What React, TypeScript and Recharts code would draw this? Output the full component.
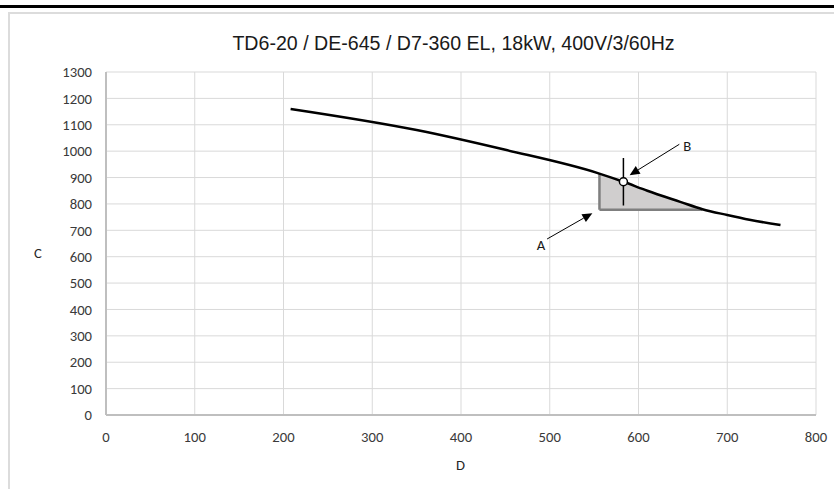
import React from "react";
import {
  ComposedChart,
  Line,
  Area,
  XAxis,
  YAxis,
  CartesianGrid,
  ReferenceLine,
  ReferenceDot,
} from "recharts";

// curve
const curveD = [208, 350, 450, 555, 583, 610, 647, 672, 700, 725, 760];
const curveC = [1160, 1080, 1005, 916, 884, 850, 808, 780, 758, 740, 720];

// shaded working range (A)
const shadeD = [556, 583, 610, 647, 672];
const shadeC = [915, 884, 850, 808, 780];
const shadeBase = 778;

// duty point (B) with its spread
const pointB = { d: 583, c: 884 };
const pointSpread = 90;

// callout arrows and their letters
const arrowA = { label: "A", text: [490, 644], from: [497, 667], to: [548, 765] };
const arrowB = { label: "B", text: [655, 1019], from: [646, 1026], to: [590, 909] };

const xTicks = [0, 100, 200, 300, 400, 500, 600, 700, 800];
const yTicks = [0, 100, 200, 300, 400, 500, 600, 700, 800, 900, 1000, 1100, 1200, 1300];

const TITLE = "TD6-20 / DE-645 / D7-360 EL, 18kW, 400V/3/60Hz";
const Y_LABEL = "C";
const X_LABEL = "D";

const curveData = curveD.map((d, i) => ({ d, c: curveC[i] }));
const shadeData = shadeD.map((d, i) => ({ d, s: shadeC[i] }));

const FONT = "Carlito, Calibri, Lato, sans-serif";
const tickFont = { fontFamily: FONT, fontSize: 14.67, fill: "#3a3a3a" };

const ArrowShape = (props: any) => {
  const { x1, y1, x2, y2 } = props;
  const dx = x2 - x1;
  const dy = y2 - y1;
  const len = Math.sqrt(dx * dx + dy * dy) || 1;
  const ux = dx / len;
  const uy = dy / len;
  const head = 10;
  const half = 4.5;
  const bx = x2 - ux * head;
  const by = y2 - uy * head;
  const pts = `${x2},${y2} ${bx - uy * half},${by + ux * half} ${bx + uy * half},${by - ux * half}`;
  return (
    <g>
      <line x1={x1} y1={y1} x2={bx} y2={by} stroke="#000" strokeWidth={1} />
      <polygon points={pts} fill="#000" />
    </g>
  );
};

const letterShape = (txt: string) => (p: any) => (
  <text
    x={p.cx}
    y={p.cy}
    textAnchor="middle"
    dominantBaseline="central"
    style={{ fontFamily: FONT, fontSize: 14.67, fill: "#1a1a1a" }}
  >
    {txt}
  </text>
);

const labelStyle: React.CSSProperties = {
  fontFamily: FONT,
  fontSize: 14.67,
  color: "#262626",
  lineHeight: "18px",
};

export default function App() {
  return (
    <div style={{ position: "absolute", left: 0, top: 0, width: 834, height: 489, background: "#fff", overflow: "hidden" }}>
      <div style={{ position: "absolute", left: 0, top: 5, width: 834, height: 3, background: "#000" }} />
      <div
        style={{
          position: "absolute",
          left: 8,
          top: 12,
          width: 840,
          height: 500,
          borderLeft: "2px solid #dcdcdc",
          borderTop: "2px solid #dcdcdc",
        }}
      />
      <div
        style={{
          position: "absolute",
          left: 0,
          top: 31,
          width: 907,
          textAlign: "center",
          fontFamily: "'Liberation Sans', Arial, sans-serif",
          fontSize: 19.6,
          color: "#1a1a1a",
          lineHeight: "24px",
        }}
      >
        {TITLE}
      </div>
      <div style={{ position: "absolute", left: 34, top: 244, ...labelStyle }}>{Y_LABEL}</div>
      <div style={{ position: "absolute", left: 456, top: 456, ...labelStyle }}>{X_LABEL}</div>

      <div style={{ position: "absolute", left: 0, top: 0 }}>
        <ComposedChart width={834} height={489} margin={{ top: 72, right: 18, bottom: 44, left: 46 }}>
          <CartesianGrid stroke="#d9d9d9" strokeWidth={1} />
          <XAxis
            type="number"
            dataKey="d"
            domain={[0, 800]}
            ticks={xTicks}
            interval={0}
            height={30}
            tick={tickFont}
            tickLine={false}
            tickSize={6}
            tickMargin={11}
            axisLine={{ stroke: "#bfbfbf", strokeWidth: 2 }}
            allowDuplicatedCategory={false}
          />
          <YAxis
            type="number"
            domain={[0, 1300]}
            ticks={yTicks}
            interval={0}
            width={60}
            tick={tickFont}
            tickLine={false}
            tickSize={6}
            tickMargin={8}
            axisLine={{ stroke: "#bfbfbf", strokeWidth: 2 }}
          />
          <Area
            data={shadeData}
            dataKey="s"
            type="monotone"
            baseValue={shadeBase}
            fill="#d0cece"
            fillOpacity={1}
            stroke="none"
            isAnimationActive={false}
          />
          <ReferenceLine
            segment={[{ x: shadeD[0], y: shadeBase }, { x: shadeD[0], y: shadeC[0] }]}
            stroke="#7f7f7f"
            strokeWidth={2.5}
          />
          <ReferenceLine
            segment={[{ x: shadeD[0], y: shadeBase }, { x: shadeD[shadeD.length - 1], y: shadeBase }]}
            stroke="#7f7f7f"
            strokeWidth={2.5}
          />
          <Line
            data={curveData}
            dataKey="c"
            type="monotone"
            stroke="#000"
            strokeWidth={2.5}
            dot={false}
            activeDot={false}
            isAnimationActive={false}
          />
          <ReferenceLine
            segment={[{ x: pointB.d, y: pointB.c - pointSpread }, { x: pointB.d, y: pointB.c + pointSpread }]}
            stroke="#000"
            strokeWidth={1.5}
          />
          <ReferenceLine
            segment={[{ x: arrowA.from[0], y: arrowA.from[1] }, { x: arrowA.to[0], y: arrowA.to[1] }]}
            shape={ArrowShape}
          />
          <ReferenceLine
            segment={[{ x: arrowB.from[0], y: arrowB.from[1] }, { x: arrowB.to[0], y: arrowB.to[1] }]}
            shape={ArrowShape}
          />
          <ReferenceDot x={arrowA.text[0]} y={arrowA.text[1]} r={1} shape={letterShape(arrowA.label)} />
          <ReferenceDot x={arrowB.text[0]} y={arrowB.text[1]} r={1} shape={letterShape(arrowB.label)} />
          <ReferenceDot x={pointB.d} y={pointB.c} r={4} fill="#fff" stroke="#000" strokeWidth={1.5} />
        </ComposedChart>
      </div>
    </div>
  );
}
